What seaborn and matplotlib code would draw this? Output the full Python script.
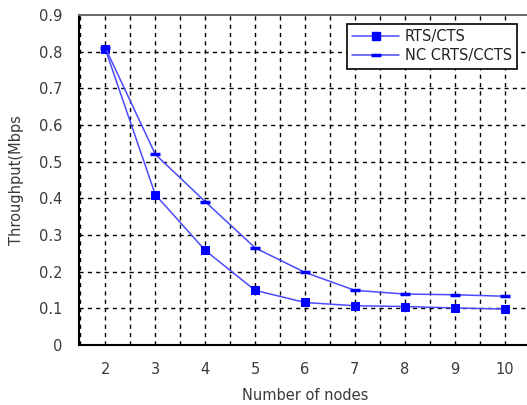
import matplotlib
matplotlib.use("Agg")
import matplotlib.pyplot as plt
import seaborn as sns
import pandas as pd
from matplotlib.ticker import MultipleLocator
from matplotlib.lines import Line2D

nodes = [2, 3, 4, 5, 6, 7, 8, 9, 10]
rts_cts = [0.806, 0.41, 0.258, 0.149, 0.116, 0.107, 0.105, 0.101, 0.098]
nc_crts = [0.81, 0.52, 0.391, 0.265, 0.198, 0.149, 0.139, 0.137, 0.133]
series_names = ["RTS/CTS", "NC CRTS/CCTS"]
ytick_labels = ["0", "0.1", "0.2", "0.3", "0.4", "0.5", "0.6", "0.7", "0.8", "0.9"]

df1 = pd.DataFrame({"nodes": nodes, "throughput": rts_cts})
df2 = pd.DataFrame({"nodes": nodes, "throughput": nc_crts})

sns.set_style("white")
plt.rcParams['font.family'] = ['DejaVu Sans']

fig = plt.figure(figsize=(5.27, 4.05), dpi=100)
W, H = 527, 405
ax = fig.add_axes([79 / W, 1 - 345 / H, (531 - 79) / W, (345 - 15) / H])

LINE_C = "#4a4aff"
MARK_C = "#0000ff"
FS = 10.5
TXT_C = "#3a3a3a"

sns.lineplot(data=df1, x="nodes", y="throughput", color=LINE_C, lw=1.1,
             marker="s", markersize=5.5, markerfacecolor=MARK_C,
             markeredgecolor=MARK_C, ax=ax, label=series_names[0], legend=False)
sns.lineplot(data=df2, x="nodes", y="throughput", color=LINE_C, lw=1.1,
             marker="_", markersize=6.5, markeredgewidth=2.5,
             markeredgecolor=MARK_C, ax=ax, label=series_names[1], legend=False)

ax.set_xlim(1.47, 10.53)
ax.set_ylim(0, 0.9)
ax.xaxis.set_major_locator(MultipleLocator(1))
ax.xaxis.set_minor_locator(MultipleLocator(0.5))
ax.set_yticks([i / 10 for i in range(10)])
ax.set_yticklabels(ytick_labels)

ax.grid(True, which="both", axis="x", color="black", linestyle=(0, (3, 3)), linewidth=1)
ax.grid(True, which="major", axis="y", color="black", linestyle=(0, (3, 3)), linewidth=1)
ax.set_axisbelow(True)
ax.yaxis.get_gridlines()[-1].set_visible(False)

ax.tick_params(axis="both", which="both", length=0, labelsize=FS, labelcolor=TXT_C)
ax.tick_params(axis="y", pad=12)
ax.tick_params(axis="x", pad=12)

for s in ["left", "bottom"]:
    ax.spines[s].set_color("black")
    ax.spines[s].set_linewidth(1.5)
ax.spines["top"].set_color("#666666")
ax.spines["top"].set_linewidth(1.4)
ax.spines["right"].set_visible(False)

ax.set_xlabel("Number of nodes", fontsize=FS, color=TXT_C, labelpad=8)
ax.set_ylabel("Throughput(Mbps", fontsize=FS, color=TXT_C, labelpad=11)

handles = [
    Line2D([], [], color=LINE_C, lw=1.1, marker="s", markersize=5.5,
           markerfacecolor=MARK_C, markeredgecolor=MARK_C),
    Line2D([], [], color=LINE_C, lw=1.1, marker="_", markersize=6.5,
           markeredgewidth=2.5, markeredgecolor=MARK_C),
]
leg = ax.legend(handles, series_names, loc="upper right",
                bbox_to_anchor=((517 - 79) / (531 - 79), 1 - (24 - 15) / 330),
                fontsize=FS, frameon=True, fancybox=False, framealpha=1,
                edgecolor="black", handlelength=3.2, handletextpad=0.4,
                borderpad=0.35, labelspacing=0.3, borderaxespad=0)
leg.get_frame().set_linewidth(1.2)
for t in leg.get_texts():
    t.set_color("#222222")

fig.savefig("out.png", dpi=100)
